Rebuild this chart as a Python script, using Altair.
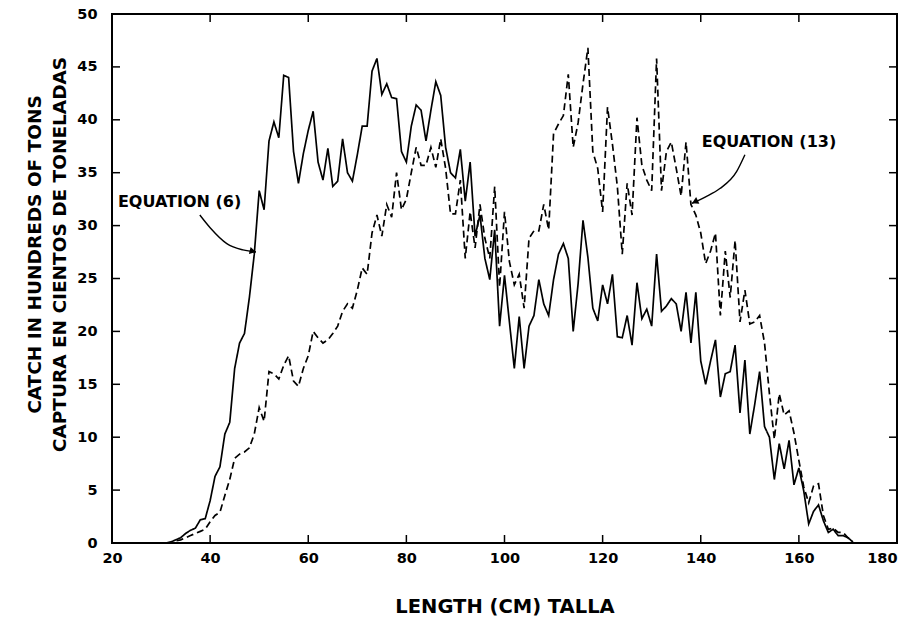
import altair as alt
import pandas as pd

# Length classes (cm)
length_cm = [
    31, 32, 33, 34, 35, 36, 37, 38, 39, 40,
    41, 42, 43, 44, 45, 46, 47, 48, 49, 50,
    51, 52, 53, 54, 55, 56, 57, 58, 59, 60,
    61, 62, 63, 64, 65, 66, 67, 68, 69, 70,
    71, 72, 73, 74, 75, 76, 77, 78, 79, 80,
    81, 82, 83, 84, 85, 86, 87, 88, 89, 90,
    91, 92, 93, 94, 95, 96, 97, 98, 99, 100,
    101, 102, 103, 104, 105, 106, 107, 108, 109, 110,
    111, 112, 113, 114, 115, 116, 117, 118, 119, 120,
    121, 122, 123, 124, 125, 126, 127, 128, 129, 130,
    131, 132, 133, 134, 135, 136, 137, 138, 139, 140,
    141, 142, 143, 144, 145, 146, 147, 148, 149, 150,
    151, 152, 153, 154, 155, 156, 157, 158, 159, 160,
    161, 162, 163, 164, 165, 166, 167, 168, 169, 170,
    171,
]

# Catch (hundreds of tons) by length, Equation (6) - solid line
catch_eq6 = [
    0.0, 0.1, 0.3, 0.5, 0.9, 1.2, 1.4, 2.2, 2.3, 4.0,
    6.3, 7.2, 10.3, 11.4, 16.5, 18.9, 19.8, 23.2, 27.3, 33.3,
    31.5, 38.0, 39.8, 38.3, 44.2, 44.0, 37.0, 34.0, 36.8, 39.0,
    40.8, 36.0, 34.3, 37.3, 33.7, 34.2, 38.2, 35.0, 34.2, 36.7,
    39.4, 39.4, 44.6, 45.8, 42.4, 43.4, 42.1, 42.0, 37.0, 36.0,
    39.4, 41.4, 40.9, 38.0, 40.9, 43.6, 42.3, 37.4, 35.0, 34.5,
    37.2, 32.3, 36.0, 29.0, 31.0, 26.9, 24.9, 29.6, 20.5, 25.3,
    20.9, 16.5, 21.4, 16.5, 20.5, 21.5, 24.9, 22.6, 21.5, 24.9,
    27.3, 28.3, 26.9, 20.0, 24.5, 30.5, 27.0, 22.2, 21.0, 24.4,
    22.6, 25.4, 19.5, 19.4, 21.5, 18.7, 24.6, 21.2, 22.1, 20.5,
    27.3, 21.9, 22.4, 23.1, 22.6, 20.0, 23.7, 18.9, 23.7, 17.2,
    15.0, 17.2, 19.2, 13.8, 16.0, 16.2, 18.7, 12.3, 17.3, 10.3,
    13.1, 16.2, 11.0, 10.0, 6.0, 9.4, 7.0, 9.7, 5.5, 7.1,
    4.9, 1.8, 3.0, 3.6, 2.1, 1.0, 1.3, 0.7, 0.7, 0.5,
    0.1,
]

# Catch (hundreds of tons) by length, Equation (13) - dashed line
catch_eq13 = [
    0.0, 0.0, 0.2, 0.3, 0.5, 0.7, 0.9, 1.1, 1.3, 2.0,
    2.6, 2.9, 4.5, 6.0, 8.0, 8.4, 8.6, 9.0, 10.3, 12.8,
    11.5, 16.2, 16.0, 15.5, 16.8, 17.7, 15.3, 14.8, 16.5, 17.7,
    20.0, 19.4, 18.9, 19.2, 19.8, 20.5, 21.9, 22.6, 22.2, 23.9,
    26.0, 25.4, 29.3, 31.0, 29.0, 32.0, 30.8, 35.0, 31.5, 32.5,
    35.0, 37.4, 35.7, 35.7, 37.4, 35.5, 38.2, 35.4, 31.1, 31.1,
    34.3, 26.9, 31.3, 27.9, 32.0, 28.8, 26.9, 33.7, 24.2, 31.3,
    26.6, 24.4, 25.4, 22.2, 28.8, 29.5, 29.5, 32.0, 29.6, 38.7,
    39.6, 40.4, 44.3, 37.4, 39.7, 43.4, 46.8, 37.0, 35.4, 31.3,
    41.2, 37.7, 33.7, 27.3, 34.0, 31.0, 40.2, 35.7, 34.3, 33.3,
    45.8, 33.3, 37.0, 37.9, 35.4, 32.8, 37.9, 32.0, 31.0, 29.3,
    26.4, 27.6, 29.3, 21.5, 27.6, 23.2, 28.6, 20.9, 23.9, 20.7,
    20.9, 21.5, 18.9, 14.1, 9.8, 14.1, 12.1, 12.5, 10.4, 7.8,
    5.3, 3.8, 5.4, 5.6, 2.6, 1.3, 1.4, 1.0, 1.0, 0.5,
    0.1,
]

series_names = ["EQUATION (6)", "EQUATION (13)"]

x_ticks = [20, 40, 60, 80, 100, 120, 140, 160, 180]
y_ticks = [0, 5, 10, 15, 20, 25, 30, 35, 40, 45, 50]
x_inner_ticks = [40, 60, 80, 100, 120, 140, 160]
y_inner_ticks = [5, 10, 15, 20, 25, 30, 35, 40, 45]

# Label placement and pointer arrows (data units)
label_x = [21.2, 140.2]
label_y = [32.2, 37.9]
arrow6_x = [37.9, 40.0, 43.4, 46.7, 49.35]
arrow6_y = [31.0, 29.8, 28.3, 27.7, 27.5]
arrow13_x = [149.0, 147.3, 143.9, 140.9, 138.2]
arrow13_y = [36.7, 35.1, 33.5, 32.7, 32.1]
head_x = [48.5, 139.0]
head_y = [27.6, 32.3]
head_angle = [104, 244]

FONT = "DejaVu Sans"
W, H = 785, 529
TICK = 8

n = len(length_cm)
curves = pd.DataFrame({
    "length": length_cm + length_cm,
    "catch": catch_eq6 + catch_eq13,
    "series": [series_names[0]] * n + [series_names[1]] * n,
})

x_scale = alt.Scale(domain=[20, 180], nice=False, zero=False)
y_scale = alt.Scale(domain=[0, 50], nice=False, zero=False)

x_axis = alt.Axis(
    values=x_ticks, format="d", grid=False, ticks=False, tickSize=0, domain=False,
    labelFont=FONT, labelFontWeight="bold", labelFontSize=14.5, labelColor="black",
    labelPadding=8, labelFlush=False,
    labelAlign={"condition": {"test": "datum.value >= 180", "value": "right"},
                "value": "center"},
    title="LENGTH (CM) TALLA", titleFont=FONT, titleFontWeight="bold",
    titleFontSize=19.5, titleColor="black", titleBaseline="alphabetic", titleY=69,
)
y_axis = alt.Axis(
    values=y_ticks, format="d", grid=False, ticks=False, tickSize=0, domain=False,
    labelFont=FONT, labelFontWeight="bold", labelFontSize=14.5, labelColor="black",
    labelPadding=15, labelFlush=False,
    title=["CATCH IN HUNDREDS OF TONS", "CAPTURA EN CIENTOS DE TONELADAS"],
    titleFont=FONT, titleFontWeight="bold", titleFontSize=18.5, titleColor="black",
    titleBaseline="alphabetic", titleLineHeight=25, titleX=-72, titleY=240,
    titleAngle=-90, titleAlign="center",
)


def xq(field):
    return alt.X(field, type="quantitative", scale=x_scale, axis=x_axis)


def yq(field):
    return alt.Y(field, type="quantitative", scale=y_scale, axis=y_axis)


lines = alt.Chart(curves).mark_line(color="black", strokeWidth=1.7).encode(
    x=xq("length"),
    y=yq("catch"),
    strokeDash=alt.StrokeDash(
        "series:N",
        scale=alt.Scale(domain=series_names, range=[[1, 0], [7, 4]]),
        legend=None,
    ),
)

ytick_df = pd.DataFrame({"v": y_inner_ticks})
xtick_df = pd.DataFrame({"v": x_inner_ticks})

left_ticks = alt.Chart(ytick_df).mark_rule(color="black", strokeWidth=1.5).encode(
    y=yq("v"), x=alt.value(0), x2=alt.value(TICK))
right_ticks = alt.Chart(ytick_df).mark_rule(color="black", strokeWidth=1.5).encode(
    y=yq("v"), x=alt.value(W - TICK), x2=alt.value(W))
bottom_ticks = alt.Chart(xtick_df).mark_rule(color="black", strokeWidth=1.5).encode(
    x=xq("v"), y=alt.value(H - TICK), y2=alt.value(H))
top_ticks = alt.Chart(xtick_df).mark_rule(color="black", strokeWidth=1.5).encode(
    x=xq("v"), y=alt.value(0), y2=alt.value(TICK))

labels_df = pd.DataFrame({"x": label_x, "y": label_y, "label": series_names})
labels = alt.Chart(labels_df).mark_text(
    align="left", baseline="middle", font=FONT, fontWeight="bold",
    fontSize=16, color="black",
).encode(
    x=xq("x"),
    y=yq("y"),
    text="label:N",
)

arrows_df = pd.DataFrame({
    "x": arrow6_x + arrow13_x,
    "y": arrow6_y + arrow13_y,
    "arrow": ["a6"] * len(arrow6_x) + ["a13"] * len(arrow13_x),
    "step": list(range(len(arrow6_x))) + list(range(len(arrow13_x))),
})
arrows = alt.Chart(arrows_df).mark_line(
    color="black", strokeWidth=1.4, interpolate="monotone"
).encode(
    x=xq("x"),
    y=yq("y"),
    detail="arrow:N",
    order="step:Q",
)

heads_df = pd.DataFrame({"x": head_x, "y": head_y, "rot": head_angle})
heads = alt.Chart(heads_df).mark_point(
    shape="triangle", filled=True, size=55, color="black", opacity=1
).encode(
    x=xq("x"),
    y=yq("y"),
    angle=alt.Angle("rot:Q", scale=None),
)

chart = alt.layer(
    lines, left_ticks, right_ticks, bottom_ticks, top_ticks, labels, arrows, heads
).properties(
    width=W,
    height=H,
    padding={"left": 112, "top": 14, "right": 11, "bottom": 78},
    autosize=alt.AutoSizeParams(type="none"),
    background="white",
).configure_view(
    stroke="black", strokeWidth=2
)

chart.save("out.html", embed_options={"renderer": "svg", "actions": False})
